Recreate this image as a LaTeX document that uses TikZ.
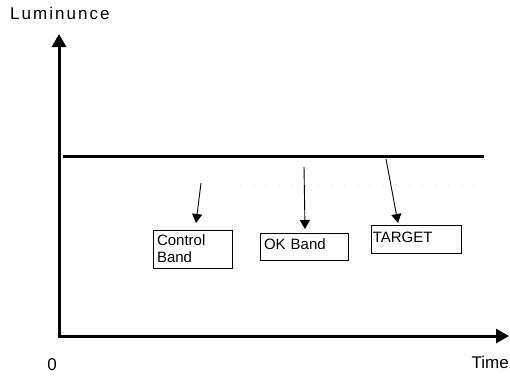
\documentclass[tikz,border=0pt]{standalone}
\usepackage{fontspec}
\setmainfont{Liberation Sans}
\newfontfamily\axisfont[LetterSpace=12]{Liberation Sans}
\usetikzlibrary{arrows.meta}
\begin{document}
\begin{tikzpicture}[x=1pt,y=-1pt,
  axis/.style={line width=3pt,-{Triangle[length=13pt,width=14pt]}},
  level/.style={line width=3pt},
  pointer/.style={line width=0.9pt,-{Triangle[length=9pt,width=10pt]}},
  boxfont/.style={font=\fontsize{15}{17}\selectfont},
  bandbox/.style={draw,line width=0.8pt,inner xsep=4pt,inner ysep=1pt,align=left,boxfont},
  axislabel/.style={inner sep=0pt,font=\fontsize{17}{19}\selectfont}
]
\useasboundingbox (0,0) rectangle (510,376);
% axes
\coordinate (origin) at (59,336);
\coordinate (ytop) at (59,34);
\coordinate (xend) at (509,336);
\draw[axis] (59,337.5) -- (ytop);
\draw[axis] (57.5,336) -- (xend);
% level line
\coordinate (l1) at (63,156);
\coordinate (l2) at (484,156);
\draw[level] (l1) -- (l2);
% faint dotted line
\coordinate (d1) at (240,185);
\coordinate (d2) at (482,185);
\draw[gray!40,line width=0.8pt,dash pattern=on 1pt off 12pt] (d1) -- (d2);
% labels
\node[axislabel,anchor=base west,font=\axisfont\fontsize{17}{19}\selectfont] (ylab) at (10,19) {Luminunce};
\node[axislabel,anchor=base] (zero) at (52,370) {0};
\node[axislabel,anchor=base east] (xlab) at (509,368) {Time};
% boxes
\node[bandbox,minimum width=79pt,minimum height=38pt,text width=71pt] (control) at (192.5,249) {Control\\Band};
\node[bandbox,minimum width=88pt,minimum height=27pt,text width=80pt,text depth=4pt] (ok) at (304,246.5) {OK Band};
\node[draw,line width=0.8pt,minimum width=90pt,minimum height=28pt,
  label={[anchor=north west,inner xsep=2pt,inner ysep=7pt,boxfont]north west:TARGET}] (target) at (416,239) {};
% pointers
\coordinate (cs) at (201,183);
\coordinate (ce) at (196,223);
\coordinate (os) at (304,167);
\coordinate (oe) at (305,229);
\coordinate (ts) at (386,159);
\coordinate (te) at (398,223);
\draw[pointer] (cs) -- (ce);
\draw[pointer] (os) -- (oe);
\draw[pointer] (ts) -- (te);
\end{tikzpicture}
\end{document}
